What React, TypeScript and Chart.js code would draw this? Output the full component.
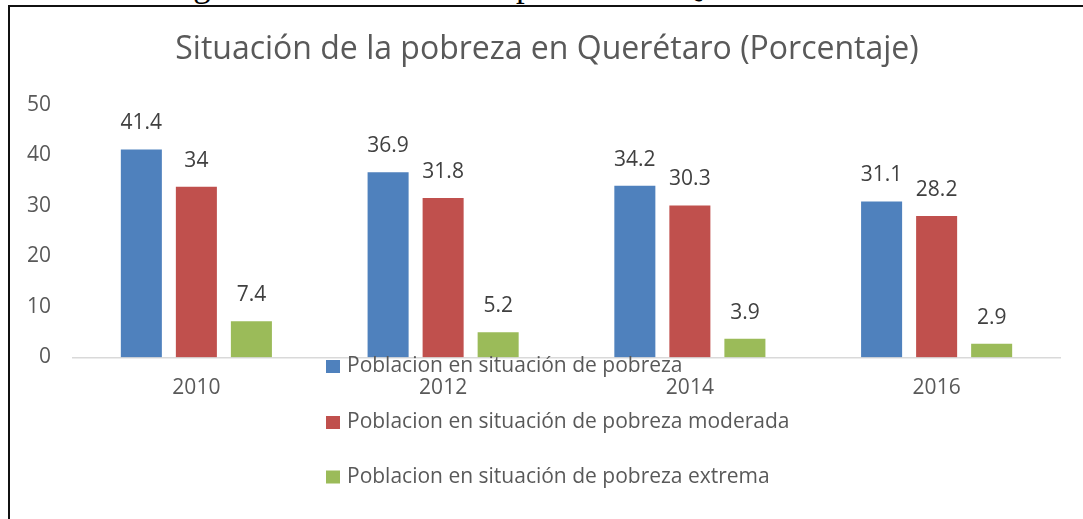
import React, { useEffect, useRef } from "react";
import { Chart, registerables } from "chart.js";

Chart.register(...registerables);

const categories = ["2010", "2012", "2014", "2016"];
const seriesNames = [
  "Poblacion en situación de pobreza",
  "Poblacion en situación de pobreza moderada",
  "Poblacion en situación de pobreza extrema",
];
const pobreza = [41.4, 36.9, 34.2, 31.1];
const moderada = [34, 31.8, 30.3, 28.2];
const extrema = [7.4, 5.2, 3.9, 2.9];
const seriesColors = ["#4F81BD", "#C0504D", "#9BBB59"];
const yTicks = [0, 10, 20, 30, 40, 50];
const chartTitle = "Situación de la pobreza en Querétaro (Porcentaje)";
const caption = "Figura 3. Situación de la pobreza en Querétaro";

const FONT = "'Open Sans', 'Noto Sans', sans-serif";
const W = 1083;
const H = 519;

const overlayPlugin = {
  id: "overlay",
  afterDatasetsDraw(chart: any) {
    const ctx = chart.ctx;
    ctx.save();
    // data labels
    ctx.font = `21px ${FONT}`;
    ctx.fillStyle = "#404040";
    ctx.textAlign = "center";
    ctx.textBaseline = "middle";
    chart.data.datasets.forEach((ds: any, i: number) => {
      const meta = chart.getDatasetMeta(i);
      meta.data.forEach((el: any, j: number) => {
        ctx.fillText(String(ds.data[j]), el.x, el.y - 25);
      });
    });
    // title
    ctx.font = `32px ${FONT}`;
    ctx.fillStyle = "#595959";
    ctx.textBaseline = "alphabetic";
    ctx.fillText(chartTitle, 547, 59);
    // legend
    const legendY = [366.5, 422.5, 477];
    ctx.font = `21px ${FONT}`;
    ctx.textAlign = "left";
    ctx.textBaseline = "middle";
    chart.data.datasets.forEach((ds: any, i: number) => {
      ctx.fillStyle = ds.backgroundColor;
      ctx.fillRect(326, legendY[i] - 6.5, 14, 13);
      ctx.fillStyle = "#595959";
      ctx.fillText(ds.label, 347, legendY[i]);
    });
    ctx.restore();
  },
};

export default function App() {
  const ref = useRef<HTMLCanvasElement | null>(null);

  useEffect(() => {
    document.body.style.margin = "0";
    document.body.style.overflow = "hidden";
    const canvas = ref.current;
    if (!canvas) return;
    const seriesData = [pobreza, moderada, extrema];
    const chart = new Chart(canvas, {
      type: "bar",
      data: {
        labels: categories,
        datasets: seriesNames.map((name, i) => ({
          label: name,
          data: seriesData[i],
          backgroundColor: seriesColors[i],
          borderColor: "rgba(255,255,255,0.35)",
          borderWidth: 1,
          categoryPercentage: 0.669,
          barPercentage: 0.782,
        })),
      },
      options: {
        responsive: false,
        animation: false,
        devicePixelRatio: 1,
        layout: { padding: { left: 0, right: 23, top: 105, bottom: 0 } },
        plugins: {
          legend: { display: false },
          title: { display: false },
          tooltip: { enabled: false },
        },
        scales: {
          x: {
            grid: { display: false, drawTicks: false },
            border: { display: true, color: "#D9D9D9", width: 1.5 },
            ticks: {
              font: { family: FONT, size: 21 },
              color: "#595959",
              padding: 18,
            },
            afterFit: (s: any) => {
              s.height = H - 357.5;
            },
          },
          y: {
            min: 0,
            max: 50,
            afterBuildTicks: (s: any) => {
              s.ticks = yTicks.map((v) => ({ value: v }));
            },
            grid: { display: false, drawTicks: false },
            border: { display: false },
            ticks: {
              font: { family: FONT, size: 21 },
              color: "#595959",
              padding: 22,
            },
            afterFit: (s: any) => {
              s.width = 73;
            },
          },
        },
      },
      plugins: [overlayPlugin],
    });
    return () => chart.destroy();
  }, []);

  return (
    <div style={{ position: "relative", width: W, height: H, overflow: "hidden", background: "#fff" }}>
      <div
        style={{
          position: "absolute",
          left: 164,
          top: -32.8,
          fontFamily: "'Liberation Serif', 'Times New Roman', serif",
          fontSize: 35,
          lineHeight: "35px",
          whiteSpace: "nowrap",
          color: "#000",
        }}
      >
        {caption}
      </div>
      <div
        style={{
          position: "absolute",
          left: 8,
          top: 5,
          width: W,
          height: H,
          borderLeft: "2px solid #111",
          borderTop: "2px solid #111",
          boxSizing: "border-box",
        }}
      />
      <canvas
        ref={ref}
        width={W}
        height={H}
        style={{ position: "absolute", left: 0, top: 0, width: W, height: H }}
      />
    </div>
  );
}
